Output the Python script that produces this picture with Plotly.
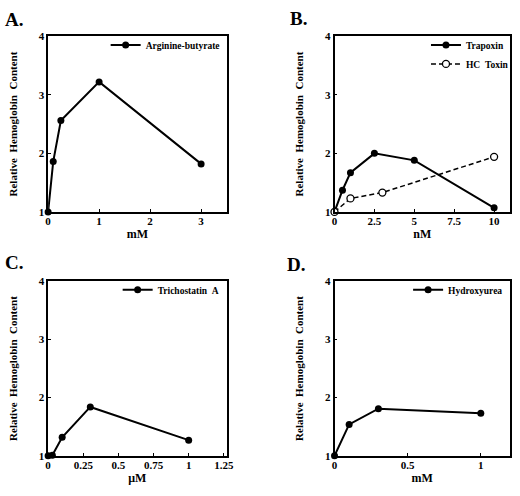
import plotly.graph_objects as go

# A. arginine-butyrate (mM)
arg_x = [0, 0.1, 0.25, 1, 3]
arg_y = [1.0, 1.86, 2.56, 3.22, 1.82]

# B. trapoxin and HC toxin (nM)
trap_x = [0, 0.5, 1, 2.5, 5, 10]
trap_y = [1.0, 1.37, 1.67, 2.0, 1.88, 1.07]
hc_x = [0, 1, 3, 10]
hc_y = [1.0, 1.23, 1.33, 1.94]

# C. trichostatin A (uM)
tsa_x = [0, 0.03, 0.1, 0.3, 1]
tsa_y = [1.0, 1.01, 1.32, 1.84, 1.27]

# D. hydroxyurea (mM)
hu_x = [0, 0.1, 0.3, 1]
hu_y = [1.0, 1.54, 1.81, 1.73]

y_ticks = [1, 2, 3, 4]
a_ticks = [0, 1, 2, 3]
b_ticks = [0, 2.5, 5, 7.5, 10]
c_ticks = [0, 0.25, 0.5, 0.75, 1, 1.25]
d_ticks = [0, 0.5, 1]

FONT = "Liberation Serif"
W, H = 520, 496
NB = "\u00a0"

fig = go.Figure()

def solid(x, y, name, xa, ya, leg):
    return go.Scatter(
        x=x, y=y, name=name, mode="lines+markers",
        line=dict(color="black", width=2),
        marker=dict(color="black", size=7),
        xaxis=xa, yaxis=ya, legend=leg, cliponaxis=False,
    )

fig.add_trace(solid(arg_x, arg_y, "Arginine-butyrate", "x", "y", "legend"))
fig.add_trace(solid(trap_x, trap_y, "Trapoxin", "x2", "y2", "legend2"))
fig.add_trace(go.Scatter(
    x=hc_x, y=hc_y, name="HC" + NB * 2 + "Toxin", mode="lines+markers",
    line=dict(color="black", width=1.5, dash="5px,3px"),
    marker=dict(color="white", size=7, line=dict(color="black", width=1.3)),
    xaxis="x2", yaxis="y2", legend="legend2", cliponaxis=False,
))
fig.add_trace(solid(tsa_x, tsa_y, "Trichostatin" + NB * 2 + "A", "x3", "y3", "legend3"))
fig.add_trace(solid(hu_x, hu_y, "Hydroxyurea", "x4", "y4", "legend4"))

# panel boxes in pixels: left, right, top, bottom
boxes = {
    "1": (46, 228, 31, 211),
    "2": (338, 517, 31, 211),
    "3": (46, 228, 282, 461),
    "4": (338, 517, 282, 461),
}
xinfo = {
    "1": ([0, 3.5], a_ticks, [str(t) for t in a_ticks], "mM"),
    "2": ([0, 11], b_ticks, ["0", "2.5", "5", "7.5", "10"], "nM"),
    "3": ([0, 1.27], c_ticks, ["0", "0.25", "0.5", "0.75", "1", "1.25"], "μM"),
    "4": ([0, 1.2], d_ticks, ["0", "0.5", "1"], "mM"),
}
# legend right edge offsets (px beyond panel right edge)
leg_shift = {"1": -2, "2": 4, "3": -2, "4": -2}

axis_common = dict(
    showline=True, mirror=True, linecolor="black", linewidth=1.5,
    ticks="inside", ticklen=3, tickcolor="black", tickwidth=1.2,
    showgrid=False, zeroline=False,
    tickfont=dict(family=FONT, size=11, color="black", weight="bold"),
)
ytitle = "Relative" + NB * 2 + "Hemoglobin" + NB * 2 + "Content"

layout = {}
for k, (l, r, t, b) in boxes.items():
    suffix = "" if k == "1" else k
    rng, tv, tt, title = xinfo[k]
    layout["xaxis" + suffix] = dict(
        axis_common, domain=[l / W, r / W], range=rng,
        tickvals=tv, ticktext=tt, anchor="y" + suffix,
        ticklabelstandoff=-2,
        title=dict(text=title, standoff=0,
                   font=dict(family=FONT, size=12, color="black", weight="bold")),
    )
    layout["yaxis" + suffix] = dict(
        axis_common, domain=[1 - b / H, 1 - t / H], range=[1, 4],
        tickvals=y_ticks, anchor="x" + suffix,
        title=dict(text=ytitle, standoff=19,
                   font=dict(family=FONT, size=11, color="black", weight="bold")),
    )

legend_common = dict(
    bgcolor="rgba(0,0,0,0)", xanchor="right", yanchor="top",
    font=dict(family=FONT, size=9.5, color="black", weight="bold"),
    itemwidth=30, tracegroupgap=0,
)
for i, k in enumerate(["1", "2", "3", "4"]):
    l, r, t, b = boxes[k]
    name = "legend" if i == 0 else "legend" + k
    layout[name] = dict(legend_common, x=(r + leg_shift[k]) / W, y=1 - (t - 6) / H)

fig.update_layout(**layout)

letters = [("A.", 0, 14), ("B.", 291, 13), ("C.", 0, 263), ("D.", 288, 265)]
for txt, px_, py_ in letters:
    fig.add_annotation(
        text=txt, x=px_ / W, y=1 - py_ / H, xref="paper", yref="paper",
        xanchor="left", yanchor="middle", showarrow=False,
        font=dict(family=FONT, size=19, color="black", weight="bold"),
    )

fig.update_layout(
    width=W, height=H, margin=dict(l=0, r=0, t=0, b=0),
    plot_bgcolor="white", paper_bgcolor="white",
    showlegend=True,
)

fig.write_html("out.html", config={"displayModeBar": False},
               post_script="document.body.style.margin='0';")
